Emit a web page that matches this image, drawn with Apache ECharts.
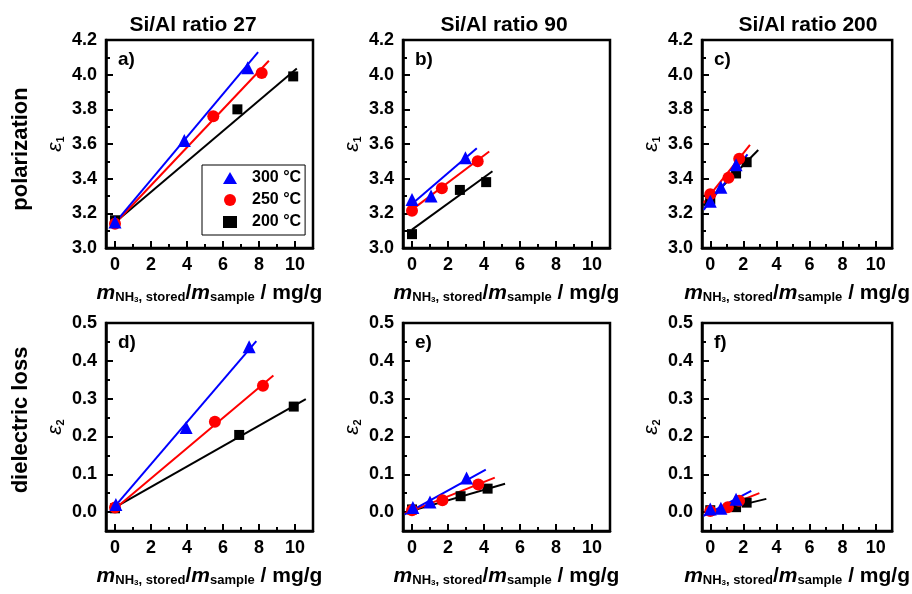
<!DOCTYPE html>
<html>
<head>
<meta charset="utf-8">
<script src="https://cdn.jsdelivr.net/npm/echarts@6/dist/echarts.min.js"></script>
<style>
html, body { margin: 0; padding: 0; background: #fff; }
#chart { width: 912px; height: 594px; }
</style>
</head>
<body>
<div id="chart"></div>
<script>
// series names, colours, markers
var temps = ['300 °C', '250 °C', '200 °C'];
var colors = ['#0000ff', '#ff0000', '#000000'];
var symbols = ['triangle', 'circle', 'rect'];
var symbolSizes = [13, 12, 10];

// tick values
var xMajor = [0, 2, 4, 6, 8, 10];
var xMinor = [1, 3, 5, 7, 9];
var yTopMajor = [3.0, 3.2, 3.4, 3.6, 3.8, 4.0, 4.2];
var yTopMinor = [3.1, 3.3, 3.5, 3.7, 3.9, 4.1];
var yBotMajor = [0, 0.1, 0.2, 0.3, 0.4, 0.5];
var yBotMinor = [0.05, 0.15, 0.25, 0.35, 0.45];

var colTitles = ['Si/Al ratio 27', 'Si/Al ratio 90', 'Si/Al ratio 200'];
var rowTitles = ['polarization', 'dielectric loss'];
var panelLabels = ['a)', 'b)', 'c)', 'd)', 'e)', 'f)'];

// measured points [x, y] : 300, 250, 200 °C
var a300 = [[0, 3.15], [3.85, 3.62], [7.37, 4.04]];
var a250 = [[0, 3.14], [5.46, 3.76], [8.15, 4.01]];
var a200 = [[0, 3.16], [6.8, 3.80], [9.9, 3.99]];
var b300 = [[0, 3.28], [1.06, 3.30], [2.97, 3.52]];
var b250 = [[0, 3.215], [1.66, 3.345], [3.65, 3.50]];
var b200 = [[0, 3.08], [2.66, 3.335], [4.12, 3.38]];
var c300 = [[0, 3.27], [0.64, 3.35], [1.56, 3.48]];
var c250 = [[0, 3.31], [1.1, 3.405], [1.75, 3.515]];
var c200 = [[0, 3.28], [1.56, 3.43], [2.2, 3.495]];
var d300 = [[0.05, 0.02], [3.95, 0.224], [7.45, 0.437]];
var d250 = [[0, 0.012], [5.55, 0.239], [8.22, 0.334]];
var d200 = [[0, 0.01], [6.9, 0.204], [9.93, 0.279]];
var e300 = [[0.05, 0.012], [1.0, 0.027], [3.03, 0.09]];
var e250 = [[0, 0.005], [1.69, 0.031], [3.68, 0.073]];
var e200 = [[0, 0.007], [2.7, 0.042], [4.2, 0.062]];
var f300 = [[0, 0.008], [0.64, 0.01], [1.56, 0.034]];
var f250 = [[0, 0.003], [1.06, 0.013], [1.74, 0.03]];
var f200 = [[0, 0.005], [1.56, 0.013], [2.2, 0.025]];

// linear fit lines, end points
var aFit300 = [[-0.2, 3.12], [7.95, 4.13]];
var aFit250 = [[-0.2, 3.12], [8.55, 4.08]];
var aFit200 = [[-0.2, 3.13], [10.1, 4.035]];
var bFit300 = [[-0.1, 3.245], [3.6, 3.575]];
var bFit250 = [[-0.27, 3.20], [4.29, 3.557]];
var bFit200 = [[0, 3.106], [4.47, 3.443]];
var cFit300 = [[-0.4, 3.22], [2.25, 3.54]];
var cFit250 = [[-0.4, 3.26], [2.4, 3.595]];
var cFit200 = [[-0.4, 3.245], [2.9, 3.565]];
var dFit300 = [[-0.1, 0.01], [7.85, 0.452]];
var dFit250 = [[-0.1, 0.005], [8.8, 0.361]];
var dFit200 = [[-0.1, 0.01], [10.6, 0.299]];
var eFit300 = [[-0.4, -0.006], [4.1, 0.112]];
var eFit250 = [[-0.4, -0.004], [4.6, 0.091]];
var eFit200 = [[-0.4, -0.002], [5.17, 0.075]];
var fFit300 = [[-0.4, -0.01], [2.48, 0.056]];
var fFit250 = [[-0.3, -0.006], [2.97, 0.05]];
var fFit200 = [[-0.3, -0.004], [3.39, 0.035]];

var panels = [
    {pts: [a300, a250, a200], fits: [aFit300, aFit250, aFit200]},
    {pts: [b300, b250, b200], fits: [bFit300, bFit250, bFit200]},
    {pts: [c300, c250, c200], fits: [cFit300, cFit250, cFit200]},
    {pts: [d300, d250, d200], fits: [dFit300, dFit250, dFit200]},
    {pts: [e300, e250, e200], fits: [eFit300, eFit250, eFit200]},
    {pts: [f300, f250, f200], fits: [fFit300, fFit250, fFit200]}
];

var FONT = '"Liberation Sans", Arial, sans-serif';
var colLeft = [106, 403, 702];
var rowTop = [40, 323];
var plotW = 207, plotH = 208;

var xName = '{m|m}{s|NH}{t|3}{s|, stored}{u|/}{m|m}{s|sample}{u| / mg/g}';
var xRich = {
    m: {fontSize: 21, fontWeight: 'bold', fontStyle: 'italic', fontFamily: FONT, color: '#000', lineHeight: 26, verticalAlign: 'bottom'},
    u: {fontSize: 21, fontWeight: 'bold', fontFamily: FONT, color: '#000', lineHeight: 26, verticalAlign: 'bottom'},
    s: {fontSize: 13, fontWeight: 'bold', fontFamily: FONT, color: '#000', lineHeight: 12, verticalAlign: 'bottom'},
    t: {fontSize: 8, fontWeight: 'bold', fontFamily: FONT, color: '#000', lineHeight: 6, verticalAlign: 'bottom'}
};
var yRich = {
    e: {fontSize: 21, fontStyle: 'italic', fontFamily: FONT, color: '#000', lineHeight: 24, verticalAlign: 'bottom'},
    o: {fontSize: 11, fontWeight: 'bold', fontFamily: FONT, color: '#000', lineHeight: 11, verticalAlign: 'bottom'}
};

var tickLabel = {color: '#000', fontSize: 18, fontWeight: 'bold', fontFamily: FONT};

var grids = [], xAxes = [], yAxes = [], series = [], graphics = [];

panels.forEach(function (p, i) {
    var row = Math.floor(i / 3), col = i % 3;
    var top = row === 0;
    grids.push({
        left: colLeft[col], top: rowTop[row], width: plotW, height: plotH,
        show: true, borderColor: '#000', borderWidth: 2.5, backgroundColor: 'transparent'
    });

    // x: major ticks + labels, then minor ticks
    xAxes.push({
        gridIndex: i, type: 'value', min: -0.5, max: 11, position: 'bottom',
        axisLine: {show: true, onZero: false, lineStyle: {color: '#000', width: 2.5}},
        axisTick: {show: true, inside: true, length: 7, customValues: xMajor, lineStyle: {color: '#000', width: 2}},
        axisLabel: Object.assign({customValues: xMajor, margin: 8}, tickLabel),
        splitLine: {show: false},
        name: xName, nameLocation: 'middle', nameGap: 30,
        nameTextStyle: {rich: xRich}
    });
    xAxes.push({
        gridIndex: i, type: 'value', min: -0.5, max: 11, position: 'bottom',
        axisLine: {show: false, onZero: false},
        axisTick: {show: true, inside: true, length: 4, customValues: xMinor, lineStyle: {color: '#000', width: 2}},
        axisLabel: {show: false}, splitLine: {show: false}
    });

    yAxes.push({
        gridIndex: i, type: 'value', position: 'left',
        min: top ? 3.0 : -0.05, max: top ? 4.2 : 0.5,
        axisLine: {show: true, onZero: false, lineStyle: {color: '#000', width: 2.5}},
        axisTick: {show: true, inside: true, length: 7, customValues: top ? yTopMajor : yBotMajor, lineStyle: {color: '#000', width: 2}},
        axisLabel: Object.assign({
            customValues: top ? yTopMajor : yBotMajor, margin: 9,
            formatter: function (v) { return v.toFixed(1); }
        }, tickLabel),
        splitLine: {show: false},
        name: top ? '{e|ε}{o|1}' : '{e|ε}{o|2}', nameLocation: 'middle', nameRotate: 90, nameGap: 40,
        nameTextStyle: {rich: yRich}
    });
    yAxes.push({
        gridIndex: i, type: 'value', position: 'left',
        min: top ? 3.0 : -0.05, max: top ? 4.2 : 0.5,
        axisLine: {show: false, onZero: false},
        axisTick: {show: true, inside: true, length: 4, customValues: top ? yTopMinor : yBotMinor, lineStyle: {color: '#000', width: 2}},
        axisLabel: {show: false}, splitLine: {show: false}
    });

    // fit lines under the markers
    [2, 1, 0].forEach(function (k) {
        series.push({
            type: 'line', xAxisIndex: 2 * i, yAxisIndex: 2 * i,
            data: p.fits[k], showSymbol: false, silent: true, z: 2,
            lineStyle: {color: colors[k], width: 2}
        });
    });
    [2, 1, 0].forEach(function (k) {
        series.push({
            type: 'scatter', name: temps[k], xAxisIndex: 2 * i, yAxisIndex: 2 * i,
            data: p.pts[k], symbol: symbols[k], symbolSize: symbolSizes[k], z: 3 + (2 - k),
            itemStyle: {color: colors[k], opacity: 1}
        });
    });

    graphics.push({
        type: 'text', x: colLeft[col] + 12, y: rowTop[row] + 20,
        style: {text: panelLabels[i], font: 'bold 19px ' + FONT, fill: '#000', align: 'left', verticalAlign: 'middle'}
    });
});

var titleX = [193, 504, 808];
colTitles.forEach(function (t, c) {
    graphics.push({
        type: 'text', x: titleX[c], y: 25,
        style: {text: t, font: 'bold 21px ' + FONT, fill: '#000', align: 'center', verticalAlign: 'middle'}
    });
});
var rowY = [149, 420];
rowTitles.forEach(function (t, r) {
    graphics.push({
        type: 'text', x: 21, y: rowY[r], rotation: Math.PI / 2,
        style: {text: t, font: 'bold 22px ' + FONT, fill: '#000', align: 'center', verticalAlign: 'middle'}
    });
});

var chart = echarts.init(document.getElementById('chart'));
chart.setOption({
    animation: false,
    backgroundColor: '#fff',
    grid: grids,
    xAxis: xAxes,
    yAxis: yAxes,
    legend: {
        data: temps, orient: 'vertical', left: 202, top: 165,
        padding: [5, 4, 5, 21], itemGap: 6, itemWidth: 14, itemHeight: 12,
        borderColor: '#000', borderWidth: 1, backgroundColor: '#fff',
        selectedMode: false,
        textStyle: {color: '#000', fontSize: 16, fontWeight: 'bold', fontFamily: FONT, lineHeight: 16, padding: [0, 0, 0, 10]}
    },
    graphic: graphics,
    series: series
});
</script>
</body>
</html>
